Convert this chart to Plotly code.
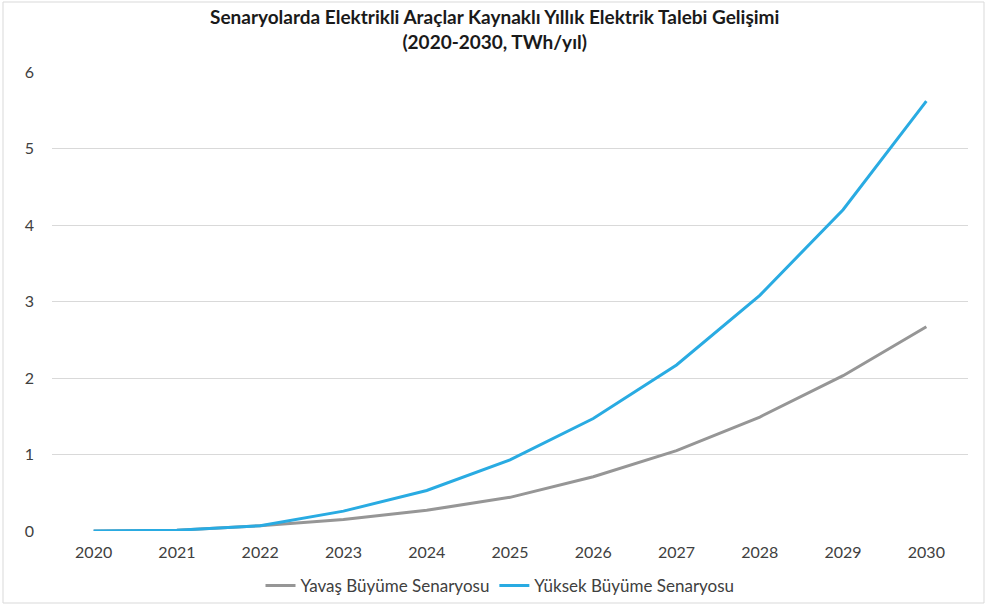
import plotly.graph_objects as go

years = ["2020", "2021", "2022", "2023", "2024", "2025", "2026", "2027", "2028", "2029", "2030"]
yavas = [0.0, 0.01, 0.07, 0.15, 0.27, 0.44, 0.71, 1.05, 1.49, 2.03, 2.67]
yuksek = [0.0, 0.01, 0.07, 0.26, 0.53, 0.93, 1.47, 2.17, 3.08, 4.20, 5.62]
series_names = ["Yavaş Büyüme Senaryosu", "Yüksek Büyüme Senaryosu"]
title_lines = ["Senaryolarda Elektrikli Araçlar Kaynaklı Yıllık Elektrik Talebi Gelişimi",
               "(2020-2030, TWh/yıl)"]

FONT = "Lato, 'Open Sans', sans-serif"
W, H = 992, 604
L, R, T, B = 52, 24, 72, 73
pw, ph = W - L - R, H - T - B

def py(pix):
    # convert a pixel row (from top) to paper y
    return (H - B - pix) / ph

def px(pix):
    return (pix - L) / pw

fig = go.Figure()
fig.add_trace(go.Scatter(x=years, y=yavas, mode="lines", name=series_names[0],
                         line=dict(color="#969696", width=3)))
fig.add_trace(go.Scatter(x=years, y=yuksek, mode="lines", name=series_names[1],
                         line=dict(color="#29ABE2", width=3)))

# outer chart frame
fig.add_shape(type="rect", xref="paper", yref="paper",
              x0=px(3), x1=px(984), y0=py(603), y1=py(2),
              line=dict(color="#D9D9D9", width=1), layer="below")

# title
fig.add_annotation(xref="paper", yref="paper", x=px(494), y=py(29),
                   xanchor="center", yanchor="middle", showarrow=False,
                   text="<b>" + title_lines[0] + "<br>" + title_lines[1] + "</b>",
                   font=dict(family=FONT, size=19, color="#1a1a1a"), align="center")

fig.update_layout(
    width=W, height=H,
    margin=dict(l=L, r=R, t=T, b=B, autoexpand=False),
    paper_bgcolor="white", plot_bgcolor="white",
    font=dict(family=FONT, size=16, color="#404040"),
    xaxis=dict(type="category", range=[-0.5, 10.5], showgrid=False, zeroline=False,
               showline=False, ticks="", tickfont=dict(size=16, color="#404040"),
               ticklabelstandoff=10, automargin=False),
    yaxis=dict(range=[0, 6], dtick=1, showgrid=True, gridcolor="#D9D9D9", gridwidth=1,
               zeroline=False, showline=False, ticks="",
               tickfont=dict(size=16, color="#404040"), ticklabelstandoff=17,
               automargin=False),
    legend=dict(orientation="h", x=px(500), xanchor="center", y=py(586), yanchor="middle",
                font=dict(size=17, color="#404040"), itemwidth=30,
                bgcolor="rgba(0,0,0,0)", traceorder="normal"),
    showlegend=True,
)

fig.write_html("out.html", config={"displayModeBar": False},
               post_script="document.body.style.margin='0';document.body.style.overflow='hidden';")
